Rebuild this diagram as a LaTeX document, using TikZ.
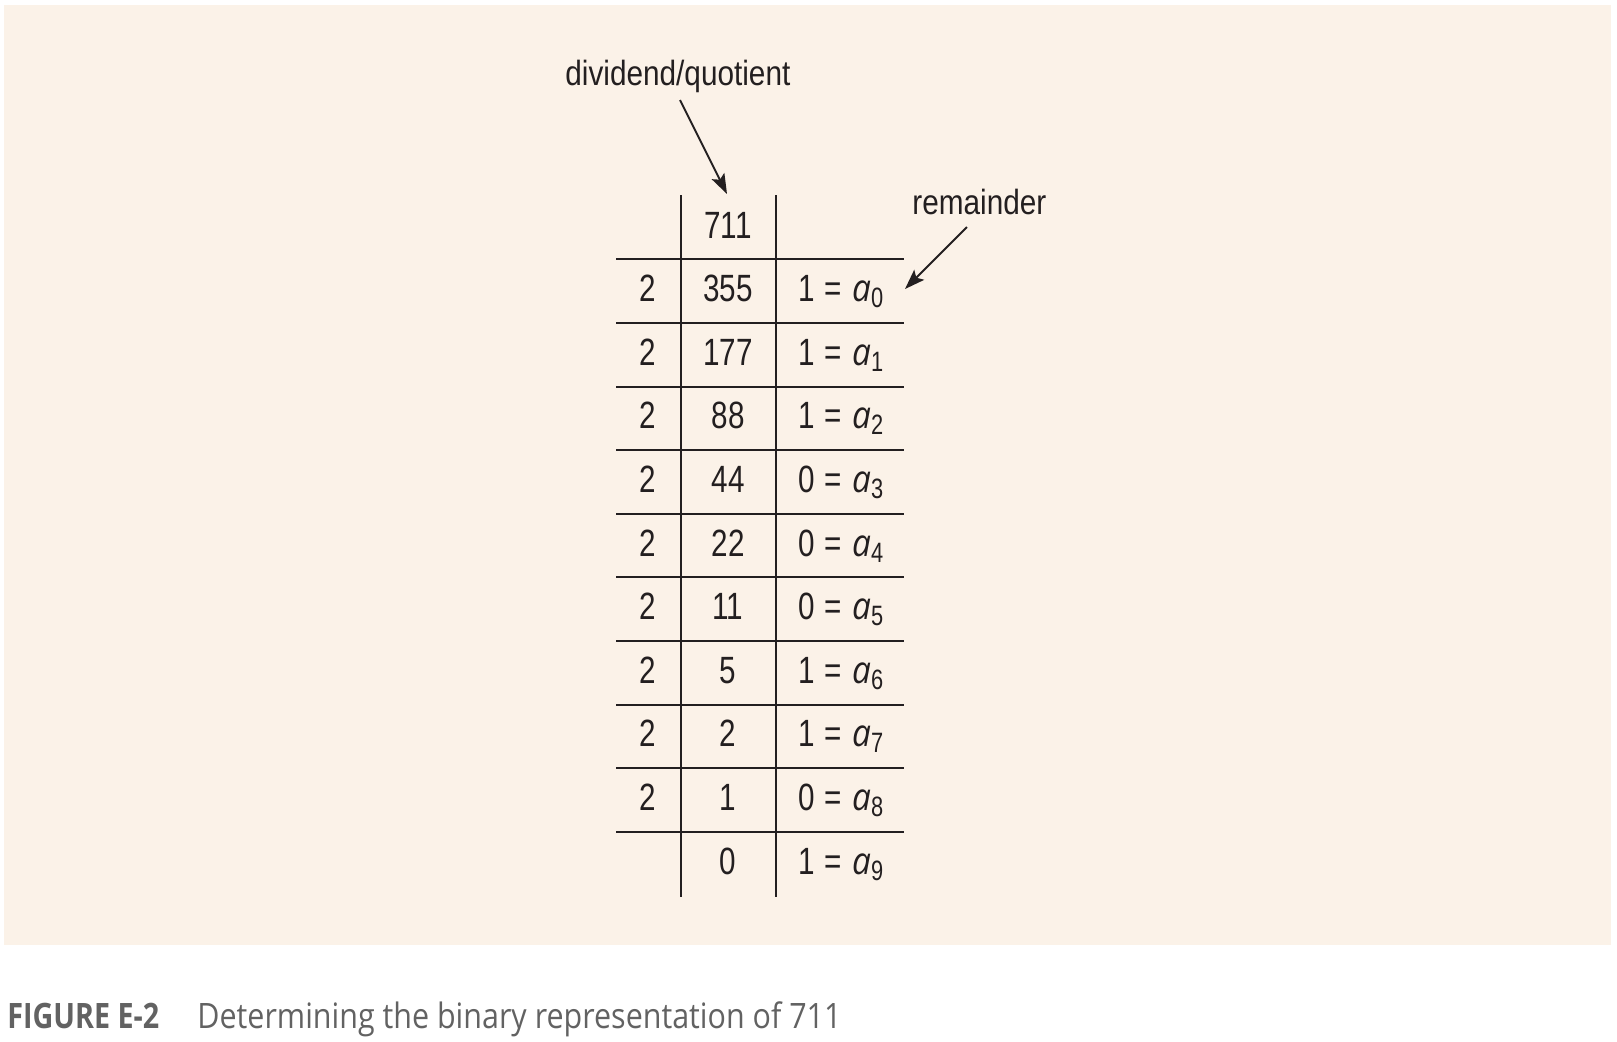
\documentclass[tikz,border=0pt]{standalone}
\usepackage{fontspec}
\setmainfont{Liberation Sans}[FakeStretch=0.78]
\newfontfamily\lblfont{Liberation Sans}[FakeStretch=0.85]
\newfontfamily\capfont{Open Sans}[FakeStretch=0.87]
\newfontfamily\capbfont{Open Sans}[FakeStretch=0.82]
\newfontfamily\itfont{Open Sans}[FakeStretch=0.88]
\usetikzlibrary{arrows.meta}
\definecolor{bgpeach}{HTML}{FBF2E8}
\definecolor{ink}{HTML}{231F20}
\definecolor{capgrey}{HTML}{626262}
\newcommand{\rem}[2]{#1\hspace{5pt}=\hspace{5pt}{\itfont\itshape a}\raisebox{-3pt}{\fontsize{14}{14}\selectfont #2}}
\tikzset{
  cell/.style={inner sep=0pt, anchor=base, text=ink, font=\fontsize{19}{19}\selectfont},
  remcell/.style={inner sep=0pt, anchor=base west, text=ink, font=\fontsize{19}{19}\selectfont},
  lbl/.style={inner sep=0pt, anchor=base west, text=ink, font=\lblfont\fontsize{17.5}{17.5}\selectfont},
  rule/.style={line width=1pt, draw=ink},
  arr/.style={line width=1pt, draw=ink, -{Stealth[length=10pt,width=7pt,inset=2pt]}},
  capt/.style={inner sep=0pt, anchor=base west, text=capgrey, font=\capfont\fontsize{17.5}{17.5}\selectfont}
}
\begin{document}
\begin{tikzpicture}[x=0.5pt,y=-0.5pt]
\useasboundingbox (0,0) rectangle (1617,1041);
\fill[bgpeach] (4,5) rectangle (1611,945);
% grid
\foreach \k in {0,...,9}{
  \draw[rule] (616,{259.3+\k*63.6}) -- (904,{259.3+\k*63.6});
}
\draw[rule] (680.7,195) -- (680.7,896.7);
\draw[rule] (776,195) -- (776,896.7);
% header
\node[cell] (q0) at (728,238) {711};
% rows
\foreach \k/\q/\r in {1/355/1,2/177/1,3/88/1,4/44/0,5/22/0,6/11/0,7/5/1,8/2/1,9/1/0}{
  \node[cell] (d\k) at (648,{238+\k*63.6}) {2};
  \node[cell] (q\k) at (728,{238+\k*63.6}) {\q};
  \pgfmathtruncatemacro{\idx}{\k-1}
  \node[remcell] (r\k) at (798,{238+\k*63.6}) {\rem{\r}{\idx}};
}
\node[cell] (q10) at (728,{238+10*63.6}) {0};
\node[remcell] (r10) at (798,{238+10*63.6}) {\rem{1}{9}};
% labels
\node[lbl] (dq) at (565,85) {dividend/quotient};
\node[lbl] (rm) at (912,214) {remainder};
\coordinate (dqtail) at (680,100);
\coordinate (dqtip) at (727,194);
\coordinate (rmtail) at (967,227);
\coordinate (rmtip) at (905,289);
\draw[arr] (dqtail) -- (dqtip);
\draw[arr] (rmtail) -- (rmtip);
% caption
\node[capt, font=\capbfont\bfseries\fontsize{17.5}{17.5}\selectfont] (figno) at (7,1028) {FIGURE E-2};
\node[capt] (figtext) at (197,1028) {Determining the binary representation of 711};
\end{tikzpicture}
\end{document}
